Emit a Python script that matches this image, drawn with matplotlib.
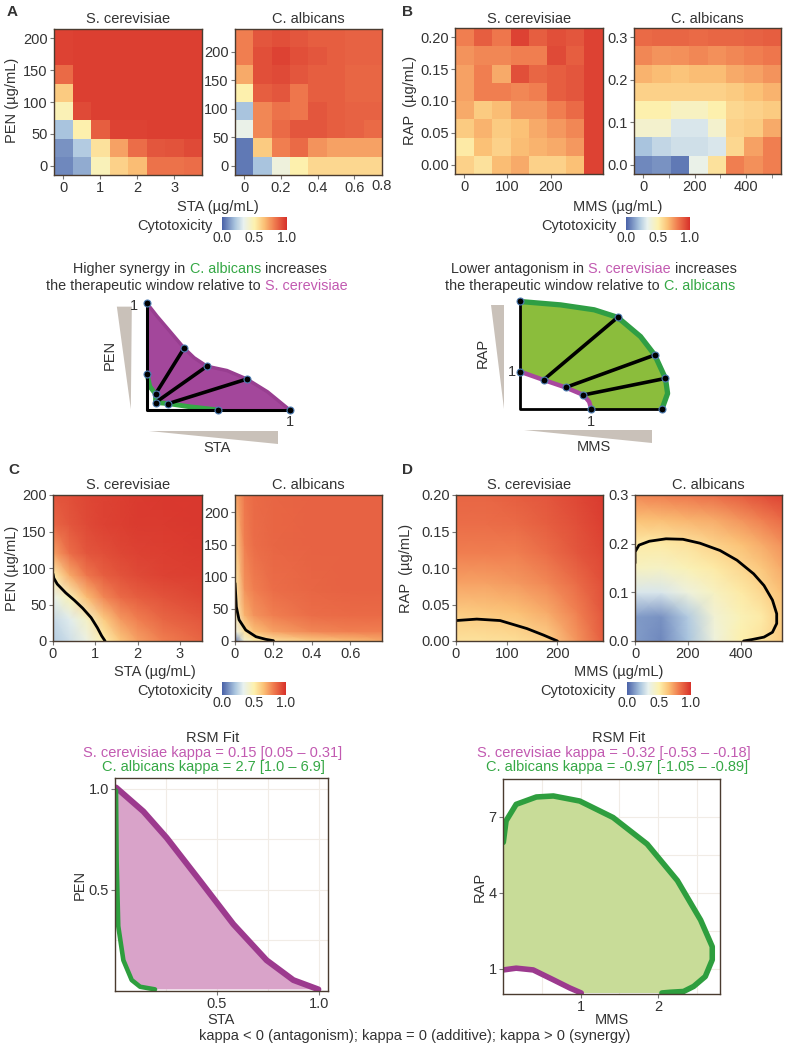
import numpy as np
import matplotlib
matplotlib.use('Agg')
import matplotlib.pyplot as plt
from matplotlib.colors import LinearSegmentedColormap

plt.rcParams['font.family'] = ['Liberation Sans', 'DejaVu Sans']

W, H = 788, 1050

# ---------------- data ----------------
# A: measured cytotoxicity, rows = PEN (bottom -> top), cols = STA
a_sta_scer = [0, 0.5, 1, 1.5, 2, 2.5, 3, 3.5]
a_pen_scer = [0, 28.6, 57.1, 85.7, 114.3, 142.9, 171.4, 200]
a_tox_scer = [
    [0.08, 0.15, 0.47, 0.60, 0.66, 0.83, 0.83, 0.84],
    [0.10, 0.22, 0.55, 0.72, 0.84, 0.90, 0.91, 0.93],
    [0.20, 0.50, 0.88, 0.95, 0.95, 0.96, 0.96, 0.96],
    [0.48, 0.93, 0.96, 0.96, 0.96, 0.96, 0.96, 0.96],
    [0.62, 0.96, 0.96, 0.96, 0.96, 0.96, 0.96, 0.96],
    [0.85, 0.96, 0.96, 0.96, 0.96, 0.96, 0.96, 0.96],
    [0.95, 0.96, 0.96, 0.96, 0.96, 0.96, 0.96, 0.96],
    [0.95, 0.96, 0.96, 0.96, 0.96, 0.96, 0.96, 0.96],
]
a_sta_calb = [0, 0.1, 0.2, 0.3, 0.4, 0.5, 0.6, 0.7]
a_pen_calb = [0, 32, 64, 96, 128, 160, 192, 224]
a_tox_calb = [
    [0.05, 0.20, 0.38, 0.50, 0.58, 0.58, 0.58, 0.58],
    [0.05, 0.62, 0.80, 0.85, 0.75, 0.72, 0.72, 0.72],
    [0.35, 0.78, 0.85, 0.90, 0.90, 0.88, 0.87, 0.85],
    [0.20, 0.78, 0.83, 0.82, 0.90, 0.88, 0.87, 0.87],
    [0.50, 0.88, 0.90, 0.82, 0.88, 0.88, 0.86, 0.86],
    [0.70, 0.92, 0.93, 0.90, 0.88, 0.88, 0.86, 0.86],
    [0.80, 0.92, 0.95, 0.92, 0.90, 0.88, 0.87, 0.87],
    [0.80, 0.90, 0.92, 0.90, 0.88, 0.88, 0.87, 0.87],
]

# B: measured cytotoxicity, rows = RAP, cols = MMS
b_mms_scer = [0, 42.9, 85.7, 128.6, 171.4, 214.3, 257.1, 300]
b_rap_scer = [0, 0.0286, 0.0571, 0.0857, 0.1143, 0.1429, 0.1714, 0.2]
b_tox_scer = [
    [0.60, 0.55, 0.66, 0.70, 0.60, 0.60, 0.65, 0.95],
    [0.52, 0.65, 0.60, 0.66, 0.68, 0.70, 0.74, 0.95],
    [0.62, 0.68, 0.62, 0.65, 0.70, 0.74, 0.78, 0.95],
    [0.70, 0.62, 0.66, 0.74, 0.74, 0.80, 0.85, 0.95],
    [0.72, 0.80, 0.80, 0.78, 0.80, 0.88, 0.90, 0.95],
    [0.72, 0.80, 0.70, 0.92, 0.86, 0.88, 0.90, 0.95],
    [0.75, 0.78, 0.78, 0.80, 0.80, 0.93, 0.88, 0.95],
    [0.80, 0.88, 0.82, 0.95, 0.88, 0.92, 0.90, 0.95],
]
b_mms_calb = [0, 71.4, 142.9, 214.3, 285.7, 357.1, 428.6, 500]
b_rap_calb = [0, 0.0429, 0.0857, 0.1286, 0.1714, 0.2143, 0.2571, 0.3]
b_tox_calb = [
    [0.08, 0.10, 0.05, 0.35, 0.55, 0.80, 0.76, 0.80],
    [0.20, 0.25, 0.28, 0.28, 0.30, 0.58, 0.72, 0.80],
    [0.42, 0.42, 0.30, 0.30, 0.42, 0.60, 0.62, 0.70],
    [0.50, 0.50, 0.45, 0.45, 0.50, 0.58, 0.60, 0.62],
    [0.60, 0.60, 0.60, 0.60, 0.60, 0.62, 0.65, 0.68],
    [0.68, 0.66, 0.64, 0.66, 0.66, 0.70, 0.72, 0.75],
    [0.78, 0.75, 0.76, 0.78, 0.76, 0.78, 0.80, 0.82],
    [0.85, 0.86, 0.86, 0.85, 0.86, 0.86, 0.87, 0.88],
]

# schematic A (normalised doses)
sa_scer_x = [0, 0.07, 0.14, 0.26, 0.33, 0.42, 0.56, 0.70, 0.845, 1.0]
sa_scer_y = [1.0, 0.88, 0.77, 0.58, 0.49, 0.41, 0.37, 0.29, 0.17, 0.0]
sa_calb_x = [0, 0.02, 0.06, 0.06, 0.15, 0.30, 0.50]
sa_calb_y = [0.34, 0.22, 0.15, 0.07, 0.06, 0.03, 0.0]
sa_ray_in = [(0.06, 0.15), (0.06, 0.07), (0.15, 0.06)]
sa_ray_out = [(0.26, 0.58), (0.42, 0.41), (0.70, 0.29)]
sa_dots = [(0, 1), (0, 0.34), (1, 0), (0.5, 0)]

# schematic B
sb_calb_x = [0, 0.57, 1.04, 1.37, 1.69, 1.89, 2.04, 2.07, 1.99]
sb_calb_y = [2.86, 2.77, 2.64, 2.44, 1.93, 1.44, 0.82, 0.42, 0.0]
sb_scer_x = [0, 0.33, 0.64, 0.89, 0.97, 1.0]
sb_scer_y = [1.0, 0.78, 0.58, 0.38, 0.20, 0.0]
sb_ray_in = [(0.33, 0.78), (0.64, 0.58), (0.89, 0.38)]
sb_ray_out = [(1.37, 2.44), (1.89, 1.44), (2.04, 0.82)]
sb_dots = [(0, 2.86), (1.99, 0), (0, 1), (1, 0)]

# C: fitted surfaces
c_sta_scer = [0, 0.4, 0.8, 1.2, 1.6, 2.0, 2.6, 3.52]
c_pen_scer = [0, 30, 60, 90, 120, 160, 200]
c_tox_scer = [
    [0.22, 0.28, 0.36, 0.50, 0.63, 0.72, 0.80, 0.86],
    [0.26, 0.32, 0.44, 0.62, 0.74, 0.80, 0.86, 0.90],
    [0.34, 0.48, 0.66, 0.78, 0.85, 0.88, 0.91, 0.94],
    [0.50, 0.70, 0.82, 0.88, 0.91, 0.93, 0.95, 0.96],
    [0.72, 0.84, 0.90, 0.92, 0.94, 0.95, 0.96, 0.97],
    [0.86, 0.90, 0.93, 0.95, 0.96, 0.97, 0.97, 0.98],
    [0.90, 0.92, 0.94, 0.95, 0.96, 0.97, 0.98, 0.98],
]
c_line_scer_x = [0, 0.02, 0.1, 0.3, 0.5, 0.7, 0.9, 1.05, 1.15, 1.23]
c_line_scer_y = [92, 86, 78, 66, 56, 45, 32, 18, 7, 0]
c_sta_calb = [0, 0.05, 0.1, 0.2, 0.4, 0.6, 0.765]
c_pen_calb = [0, 15, 40, 80, 150, 227]
c_tox_calb = [
    [0.05, 0.40, 0.50, 0.55, 0.62, 0.66, 0.70],
    [0.35, 0.55, 0.65, 0.72, 0.78, 0.80, 0.80],
    [0.45, 0.68, 0.75, 0.80, 0.84, 0.85, 0.85],
    [0.50, 0.75, 0.80, 0.84, 0.86, 0.87, 0.87],
    [0.60, 0.80, 0.84, 0.86, 0.87, 0.87, 0.87],
    [0.70, 0.82, 0.85, 0.86, 0.87, 0.87, 0.87],
]
c_line_calb_x = [0, 0.004, 0.007, 0.021, 0.056, 0.109, 0.16, 0.2]
c_line_calb_y = [90, 70, 53, 33, 17, 6.7, 2.6, 0.5]

# D: fitted surfaces
d_mms_scer = [0, 60, 120, 180, 240, 290]
d_rap_scer = [0, 0.04, 0.08, 0.12, 0.16, 0.2]
d_tox_scer = [
    [0.55, 0.55, 0.56, 0.60, 0.75, 0.88],
    [0.62, 0.63, 0.65, 0.70, 0.80, 0.90],
    [0.72, 0.72, 0.74, 0.78, 0.85, 0.92],
    [0.80, 0.80, 0.80, 0.84, 0.90, 0.94],
    [0.84, 0.84, 0.85, 0.88, 0.92, 0.96],
    [0.86, 0.86, 0.88, 0.90, 0.94, 0.97],
]
d_line_scer_x = [0, 41, 87, 140, 173, 200]
d_line_scer_y = [0.028, 0.030, 0.028, 0.017, 0.008, 0.0]
d_mms_calb = [0, 100, 200, 300, 400, 480, 555]
d_rap_calb = [0, 0.05, 0.1, 0.15, 0.2, 0.25, 0.3]
d_tox_calb = [
    [0.12, 0.08, 0.20, 0.38, 0.50, 0.55, 0.62],
    [0.12, 0.10, 0.22, 0.40, 0.48, 0.52, 0.62],
    [0.30, 0.30, 0.38, 0.45, 0.52, 0.58, 0.65],
    [0.45, 0.44, 0.48, 0.52, 0.58, 0.63, 0.70],
    [0.52, 0.52, 0.55, 0.60, 0.65, 0.70, 0.76],
    [0.65, 0.66, 0.68, 0.70, 0.75, 0.80, 0.85],
    [0.78, 0.80, 0.82, 0.84, 0.88, 0.92, 0.95],
]
d_line_calb_x = [0, 0, 15, 54, 117, 181, 245, 321, 385, 448, 487, 519, 535,
                 535, 519, 487, 442, 410]
d_line_calb_y = [0.160, 0.183, 0.197, 0.205, 0.210, 0.209, 0.201, 0.186,
                 0.166, 0.138, 0.114, 0.084, 0.056, 0.036, 0.018, 0.008,
                 0.003, 0.0]

# RSM isobolograms
e_scer_x = [0.005, 0.139, 0.253, 0.417, 0.58, 0.743, 0.874, 0.997]
e_scer_y = [1.005, 0.887, 0.757, 0.544, 0.33, 0.152, 0.054, 0.008]
e_calb_x = [0.005, 0.008, 0.016, 0.041, 0.082, 0.123, 0.196]
e_calb_y = [0.99, 0.64, 0.32, 0.152, 0.054, 0.021, 0.008]
f_calb_x = [0.004, 0.04, 0.17, 0.43, 0.65, 0.99, 1.42, 1.86, 2.25, 2.55, 2.70,
            2.70, 2.61, 2.46, 2.33, 2.16, 2.05]
f_calb_y = [5.99, 6.84, 7.49, 7.78, 7.82, 7.62, 6.97, 5.92, 4.48, 2.92, 1.87,
            1.35, 0.69, 0.30, 0.10, 0.07, 0.04]
f_scer_x = [0.004, 0.17, 0.39, 0.65, 0.86, 1.01]
f_scer_y = [0.95, 1.02, 0.95, 0.56, 0.24, 0.04]

# ---------------- styles ----------------
cmap = LinearSegmentedColormap.from_list('tox', [
    (0.0, '#4a62a8'), (0.2, '#a9c4de'), (0.33, '#e8f1ef'), (0.5, '#fdf1ae'),
    (0.65, '#fbc176'), (0.8, '#f07e50'), (1.0, '#d7302a')])
FRAME = '#4a3b2f'
TXT = '#333333'
GREEN = '#35a845'
PINK = '#c25ab1'
PURPLE = '#a3479b'
FS = 10.5

fig = plt.figure(figsize=(W / 100, H / 100), dpi=100)


def px_rect(l, t, r, b):
    return [l / W, 1 - b / H, (r - l) / W, (b - t) / H]


def ftext(x, y, s, **kw):
    kw.setdefault('color', TXT)
    kw.setdefault('fontsize', FS)
    return fig.text(x / W, 1 - y / H, s, **kw)


def style(ax):
    for sp in ax.spines.values():
        sp.set_color(FRAME)
        sp.set_linewidth(1.0)
    ax.tick_params(labelsize=FS, length=3, width=0.8, color='#777777',
                   labelcolor=TXT, pad=1.5)


def heat(rect, xs, ys, z):
    ax = fig.add_axes(px_rect(*rect))
    ax.pcolormesh(xs, ys, np.array(z), cmap=cmap, vmin=0, vmax=1,
                  shading='nearest')
    style(ax)
    return ax


def surface(rect, xs, ys, z, lx, ly):
    ax = fig.add_axes(px_rect(*rect))
    ax.pcolormesh(xs, ys, np.array(z), cmap=cmap, vmin=0, vmax=1,
                  shading='gouraud')
    ax.plot(lx, ly, color='black', lw=2, solid_capstyle='round')
    ax.set_xlim(xs[0], xs[-1])
    ax.set_ylim(ys[0], ys[-1])
    style(ax)
    return ax


def colorbar(l, t, r, b, label_right, y_label):
    cax = fig.add_axes(px_rect(l, t, r, b))
    sm = plt.cm.ScalarMappable(cmap=cmap, norm=plt.Normalize(0, 1))
    cb = fig.colorbar(sm, cax=cax, orientation='horizontal', ticks=[0, 0.5, 1])
    cb.outline.set_visible(False)
    cb.ax.set_xticklabels(['0.0', '0.5', '1.0'])
    cb.ax.tick_params(length=0, labelsize=10, labelcolor=TXT, pad=1)
    ftext(label_right, y_label, 'Cytotoxicity', ha='right', va='center')


def rich_line(xc, y, parts, size=10.4):
    r = fig.canvas.get_renderer()
    texts = [ftext(0, y, s, color=c, fontsize=size, ha='left', va='center')
             for s, c in parts]
    widths = [t.get_window_extent(r).width for t in texts]
    x = xc - sum(widths) / 2
    for t, w in zip(texts, widths):
        t.set_x(x / W)
        x += w


# ---------------- panel A ----------------
ax = heat((54, 29, 202, 175), a_sta_scer, a_pen_scer, a_tox_scer)
ax.set_xticks([0, 1, 2, 3])
ax.set_yticks([0, 50, 100, 150, 200])
ax = heat((235, 29, 382, 175), a_sta_calb, a_pen_calb, a_tox_calb)
ax.set_xticks([0, 0.2, 0.4, 0.6])
ax.set_xticklabels(['0', '0.2', '0.4', '0.6'])
ax.set_yticks([0, 50, 100, 150, 200])
ftext(382, 179.5, '0.8', ha='center', va='top')
ftext(128, 19, 'S. cerevisiae', ha='center', va='center')
ftext(308, 19, 'C. albicans', ha='center', va='center')
ftext(12, 100, 'PEN (µg/mL)', rotation=90, ha='center', va='center')
ftext(218, 207, 'STA (µg/mL)', ha='center', va='center')
colorbar(222, 217, 287, 230, 213, 226)
ftext(7, 12, 'A', fontsize=11, fontweight='bold', va='center')

# ---------------- panel B ----------------
ax = heat((455, 28, 603, 174), b_mms_scer, b_rap_scer, b_tox_scer)
ax.set_xticks([0, 100, 200])
ax.set_yticks([0, 0.05, 0.10, 0.15, 0.20])
ax.set_yticklabels(['0.00', '0.05', '0.10', '0.15', '0.20'])
ax = heat((634, 28, 781, 174), b_mms_calb, b_rap_calb, b_tox_calb)
ax.set_xticks([0, 200, 400])
ax.set_xticks([100, 300, 500], minor=True)
ax.tick_params(which='minor', length=3, color='#777777')
ax.set_yticks([0, 0.1, 0.2, 0.3])
ax.set_yticklabels(['0.0', '0.1', '0.2', '0.3'])
ftext(529, 19, 'S. cerevisiae', ha='center', va='center')
ftext(707, 19, 'C. albicans', ha='center', va='center')
ftext(410, 100, 'RAP  (µg/mL)', rotation=90, ha='center', va='center')
ftext(618, 207, 'MMS (µg/mL)', ha='center', va='center')
colorbar(626, 217, 690, 230, 617, 226)
ftext(402, 12, 'B', fontsize=11, fontweight='bold', va='center')

# ---------------- schematics ----------------
rich_line(200, 269, [('Higher synergy in ', TXT), ('C. albicans', GREEN),
                     (' increases', TXT)])
rich_line(197, 286, [('the therapeutic window relative to ', TXT),
                     ('S. cerevisiae', PINK)])
rich_line(594, 269, [('Lower antagonism in ', TXT), ('S. cerevisiae', PINK),
                     (' increases', TXT)])
rich_line(590, 286, [('the therapeutic window relative to ', TXT),
                     ('C. albicans', GREEN)])

dot_kw = dict(marker='o', ms=5, mfc='black', mec='#4f7fb5', mew=0.8,
              ls='none', zorder=6)
wedge = '#c9c1b9'

# A schematic
ax = fig.add_axes(px_rect(95, 290, 310, 460))
ax.set_xlim(-0.364, 1.142)
ax.set_ylim(-0.469, 1.125)
ax.axis('off')
ax.fill(np.r_[sa_scer_x, sa_calb_x[::-1]], np.r_[sa_scer_y, sa_calb_y[::-1]],
        color=PURPLE, lw=0)
ax.plot(sa_scer_x, sa_scer_y, color='#983e90', lw=2.5)
ax.plot(sa_calb_x, sa_calb_y, color=GREEN, lw=3.5, solid_capstyle='round')
ax.plot([0, 0, 1], [1, 0, 0], color='black', lw=2.2, zorder=4)
for (x0, y0), (x1, y1) in zip(sa_ray_in, sa_ray_out):
    ax.plot([x0, x1], [y0, y1], color='black', lw=2.6, zorder=5)
pts = sa_dots + sa_ray_in + sa_ray_out
ax.plot([p[0] for p in pts], [p[1] for p in pts], **dot_kw)
ax.fill([-0.211, -0.106, -0.113], [0.969, 0.969, 0.006], color=wedge, lw=0)
ax.fill([0.012, 0.915, 0.915], [-0.194, -0.194, -0.319], color=wedge, lw=0)
ax.text(-0.06, 0.975, '1', ha='right', va='center', fontsize=FS, color=TXT)
ax.text(1.0, -0.11, '1', ha='center', va='center', fontsize=FS, color=TXT)
ax.text(-0.258, 0.516, 'PEN', rotation=90, ha='center', va='center',
        fontsize=FS, color=TXT)
ax.text(0.493, -0.36, 'STA', ha='center', va='center', fontsize=FS, color=TXT)

# B schematic
ax = fig.add_axes(px_rect(470, 290, 690, 460))
ax.set_xlim(-0.701, 2.384)
ax.set_ylim(-1.345, 3.165)
ax.axis('off')
ax.fill(np.r_[sb_calb_x, sb_scer_x[::-1]], np.r_[sb_calb_y, sb_scer_y[::-1]],
        color='#8bbd3c', lw=0)
ax.plot(sb_calb_x, sb_calb_y, color='#2f9e44', lw=3.8, solid_capstyle='round')
ax.plot(sb_scer_x, sb_scer_y, color='#a8479e', lw=3.2, solid_capstyle='round')
ax.plot([0, 0, 1.99], [2.86, 0, 0], color='black', lw=2.0, zorder=4)
for (x0, y0), (x1, y1) in zip(sb_ray_in, sb_ray_out):
    ax.plot([x0, x1], [y0, y1], color='black', lw=2.6, zorder=5)
pts = sb_dots + sb_ray_in + sb_ray_out
ax.plot([p[0] for p in pts], [p[1] for p in pts], **dot_kw)
ax.fill([-0.411, -0.224, -0.224], [2.77, 2.77, 0.0], color=wedge, lw=0)
ax.fill([0.056, 1.855, 1.855], [-0.549, -0.549, -0.903], color=wedge, lw=0)
ax.text(-0.06, 1.0, '1', ha='right', va='center', fontsize=FS, color=TXT)
ax.text(1.0, -0.33, '1', ha='center', va='center', fontsize=FS, color=TXT)
ax.text(-0.528, 1.487, 'RAP', rotation=90, ha='center', va='center',
        fontsize=FS, color=TXT)
ax.text(1.037, -1.01, 'MMS', ha='center', va='center', fontsize=FS, color=TXT)

# ---------------- panel C ----------------
ax = surface((53, 495, 202, 641), c_sta_scer, c_pen_scer, c_tox_scer,
             c_line_scer_x, c_line_scer_y)
ax.set_xticks([0, 1, 2, 3])
ax.set_yticks([0, 50, 100, 150, 200])
ax = surface((235, 495, 382, 641), c_sta_calb, c_pen_calb, c_tox_calb,
             c_line_calb_x, c_line_calb_y)
ax.set_xticks([0, 0.2, 0.4, 0.6])
ax.set_xticklabels(['0', '0.2', '0.4', '0.6'])
ax.set_yticks([0, 50, 100, 150, 200])
ftext(128, 485, 'S. cerevisiae', ha='center', va='center')
ftext(308, 485, 'C. albicans', ha='center', va='center')
ftext(12, 568, 'PEN (µg/mL)', rotation=90, ha='center', va='center')
ftext(155, 672, 'STA (µg/mL)', ha='center', va='center')
colorbar(222, 682, 286, 695, 213, 691)
ftext(8, 470, 'C', fontsize=11, fontweight='bold', va='center')

# ---------------- panel D ----------------
ax = surface((456, 495, 603, 641), d_mms_scer, d_rap_scer, d_tox_scer,
             d_line_scer_x, d_line_scer_y)
ax.set_xticks([0, 100, 200])
ax.set_yticks([0, 0.05, 0.10, 0.15, 0.20])
ax.set_yticklabels(['0.00', '0.05', '0.10', '0.15', '0.20'])
ax = surface((635, 495, 782, 641), d_mms_calb, d_rap_calb, d_tox_calb,
             d_line_calb_x, d_line_calb_y)
ax.set_xticks([0, 200, 400])
ax.set_yticks([0, 0.1, 0.2, 0.3])
ax.set_yticklabels(['0.0', '0.1', '0.2', '0.3'])
ftext(529, 485, 'S. cerevisiae', ha='center', va='center')
ftext(708, 485, 'C. albicans', ha='center', va='center')
ftext(406, 568, 'RAP  (µg/mL)', rotation=90, ha='center', va='center')
ftext(619, 672, 'MMS (µg/mL)', ha='center', va='center')
colorbar(627, 682, 691, 695, 616, 691)
ftext(402, 470, 'D', fontsize=11, fontweight='bold', va='center')

# ---------------- RSM fits ----------------
ftext(213, 738, 'RSM Fit', ha='center', va='center')
ftext(213, 753, 'S. cerevisiae kappa = 0.15 [0.05 – 0.31]', color=PINK,
      ha='center', va='center')
ftext(213, 767, 'C. albicans kappa = 2.7 [1.0 – 6.9]', color=GREEN,
      ha='center', va='center')
ftext(619, 738, 'RSM Fit', ha='center', va='center')
ftext(614, 753, 'S. cerevisiae kappa = -0.32 [-0.53 – -0.18]', color=PINK,
      ha='center', va='center')
ftext(617, 767, 'C. albicans kappa = -0.97 [-1.05 – -0.89]', color=GREEN,
      ha='center', va='center')

ax = fig.add_axes(px_rect(115, 778, 328, 991))
ax.fill(np.r_[e_scer_x, e_calb_x[::-1]], np.r_[e_scer_y, e_calb_y[::-1]],
        color='#d9a3c9', lw=0)
ax.plot(e_scer_x, e_scer_y, color='#9c3a8e', lw=4.3, solid_capstyle='round')
ax.plot(e_calb_x, e_calb_y, color='#2e9e3e', lw=3.3, solid_capstyle='round')
ax.set_xlim(0, 1.044)
ax.set_ylim(0, 1.052)
ax.set_xticks([0.5, 1.0])
ax.set_yticks([0.5, 1.0])
ax.set_xticks([0.25, 0.75], minor=True)
ax.set_yticks([0.25, 0.75], minor=True)
ax.grid(True, which='both', color='#f1ece6', lw=0.8)
ax.set_axisbelow(True)
style(ax)
ax.tick_params(which='minor', length=0)
ax.set_xlabel('STA', fontsize=FS, color=TXT, labelpad=1)
ax.set_ylabel('PEN', fontsize=FS, color=TXT, labelpad=1)

ax = fig.add_axes(px_rect(503, 779, 720, 994))
ax.fill(np.r_[f_calb_x, f_scer_x[::-1]], np.r_[f_calb_y, f_scer_y[::-1]],
        color='#c8dc98', lw=0)
ax.plot(f_calb_x, f_calb_y, color='#2e9e3e', lw=4.0, solid_capstyle='round')
ax.plot(f_scer_x, f_scer_y, color='#9c3a8e', lw=4.0, solid_capstyle='round')
ax.set_xlim(0, 2.8)
ax.set_ylim(0, 8.49)
ax.set_xticks([1, 2])
ax.set_yticks([1, 4, 7])
ax.set_xticks([0.5, 1.5, 2.5], minor=True)
ax.set_yticks([2.5, 5.5], minor=True)
ax.grid(True, which='both', color='#f1ece6', lw=0.8)
ax.set_axisbelow(True)
style(ax)
ax.tick_params(which='minor', length=0)
ax.set_xlabel('MMS', fontsize=FS, color=TXT, labelpad=-1)
ax.set_ylabel('RAP', fontsize=FS, color=TXT, labelpad=1)

ftext(415, 1036, 'kappa < 0 (antagonism); kappa = 0 (additive); kappa > 0 (synergy)',
      ha='center', va='center')

fig.savefig('out.png', dpi=100)
